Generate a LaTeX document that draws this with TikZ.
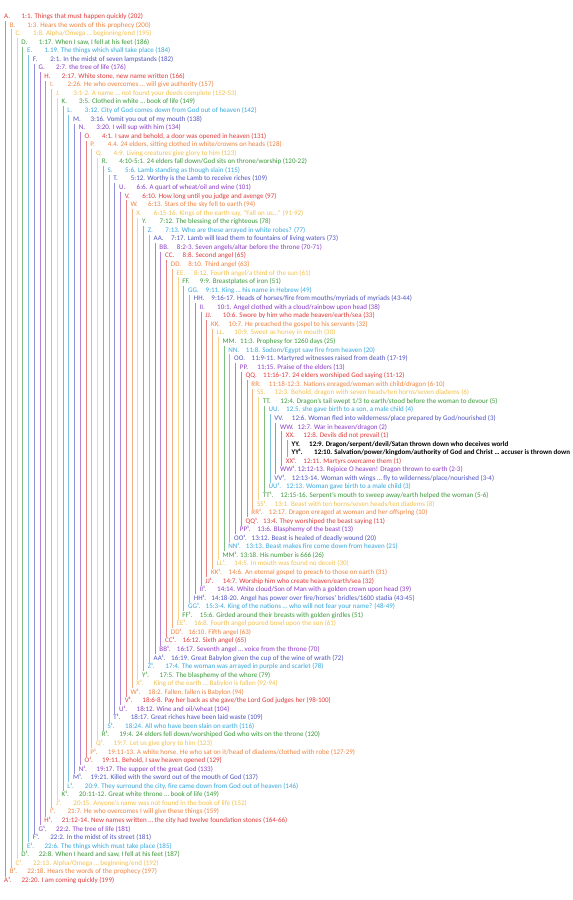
\documentclass[tikz,border=0pt]{standalone}
\usepackage{fontspec}
\setmainfont{Carlito}
\begin{document}
% colour cycle of the bracket levels
\definecolor{c0}{HTML}{E03C3C}
\definecolor{c1}{HTML}{EF8440}
\definecolor{c2}{HTML}{F3C04E}
\definecolor{c3}{HTML}{3C9A3C}
\definecolor{c4}{HTML}{38A8DC}
\definecolor{c5}{HTML}{5054C0}
\definecolor{c6}{HTML}{8C3CC6}
\newcommand\rowy[1]{16.7+8.554*#1}
\newcommand\chrow[3]{% row, level, label and text
  \pgfmathtruncatemacro\ci{mod(#2,7)}%
  \node[lab,text=c\ci] (lab#1) at ({4+5.75*#2},{\rowy{#1}}) {#3.};%
}
\newcommand\chtxt[3]{% row, level, text
  \pgfmathtruncatemacro\ci{mod(#2,7)}%
  \node[txt,text=c\ci] (txt#1) at ({21.5+5.75*#2},{\rowy{#1}}) {#3};%
}
\begin{tikzpicture}[x=1pt,y=-1pt,
  lab/.style={anchor=west,inner sep=0pt,text height=4.9pt,text depth=1.4pt,
    font=\fontsize{7}{8}\selectfont},
  txt/.style={anchor=west,inner sep=0pt,text height=4.9pt,text depth=1.4pt,
    font=\fontsize{7}{8}\selectfont},
  bar/.style={line width=0.8pt}]
\fill[white] (0,0) rectangle (573,900);
\useasboundingbox (0,0) rectangle (573,900);
% opening half
\chrow{0}{0}{A}\chtxt{0}{0}{1:1. Things that must happen quickly (202)}
\chrow{1}{1}{B}\chtxt{1}{1}{1:3. Hears the words of this prophecy (200)}
\chrow{2}{2}{C}\chtxt{2}{2}{1:8. Alpha/Omega … beginning/end (195)}
\chrow{3}{3}{D}\chtxt{3}{3}{1:17. When I saw, I fell at his feet (186)}
\chrow{4}{4}{E}\chtxt{4}{4}{1.19. The things which shall take place (184)}
\chrow{5}{5}{F}\chtxt{5}{5}{2:1. In the midst of seven lampstands (182)}
\chrow{6}{6}{G}\chtxt{6}{6}{2:7. the tree of life (176)}
\chrow{7}{7}{H}\chtxt{7}{7}{2:17. White stone, new name written (166)}
\chrow{8}{8}{I}\chtxt{8}{8}{2:26. He who overcomes … will give authority (157)}
\chrow{9}{9}{J}\chtxt{9}{9}{3:1-2. A name … not found your deeds complete (152-53)}
\chrow{10}{10}{K}\chtxt{10}{10}{3:5. Clothed in white … book of life (149)}
\chrow{11}{11}{L}\chtxt{11}{11}{3:12. City of God comes down from God out of heaven (142)}
\chrow{12}{12}{M}\chtxt{12}{12}{3:16. Vomit you out of my mouth (138)}
\chrow{13}{13}{N}\chtxt{13}{13}{3:20. I will sup with him (134)}
\chrow{14}{14}{O}\chtxt{14}{14}{4:1. I saw and behold, a door was opened in heaven (131)}
\chrow{15}{15}{P}\chtxt{15}{15}{4.4. 24 elders, sitting clothed in white/crowns on heads (128)}
\chrow{16}{16}{Q}\chtxt{16}{16}{4:9. Living creatures give glory to him (123)}
\chrow{17}{17}{R}\chtxt{17}{17}{4:10-5:1. 24 elders fall down/God sits on throne/worship (120-22)}
\chrow{18}{18}{S}\chtxt{18}{18}{5:6. Lamb standing as though slain (115)}
\chrow{19}{19}{T}\chtxt{19}{19}{5:12. Worthy is the Lamb to receive riches (109)}
\chrow{20}{20}{U}\chtxt{20}{20}{6:6. A quart of wheat/oil and wine (101)}
\chrow{21}{21}{V}\chtxt{21}{21}{6:10. How long until you judge and avenge (97)}
\chrow{22}{22}{W}\chtxt{22}{22}{6:13. Stars of the sky fell to earth (94)}
\chrow{23}{23}{X}\chtxt{23}{23}{6:15-16. Kings of the earth say, “Fall on us...” (91-92)}
\chrow{24}{24}{Y}\chtxt{24}{24}{7:12. The blessing of the righteous (78)}
\chrow{25}{25}{Z}\chtxt{25}{25}{7:13. Who are these arrayed in white robes? (77)}
\chrow{26}{26}{AA}\chtxt{26}{26}{7:17. Lamb will lead them to fountains of living waters (73)}
\chrow{27}{27}{BB}\chtxt{27}{27}{8:2-3. Seven angels/altar before the throne (70-71)}
\chrow{28}{28}{CC}\chtxt{28}{28}{8:8. Second angel (65)}
\chrow{29}{29}{DD}\chtxt{29}{29}{8:10. Third angel (63)}
\chrow{30}{30}{EE}\chtxt{30}{30}{8:12. Fourth angel/a third of the sun (61)}
\chrow{31}{31}{FF}\chtxt{31}{31}{9:9. Breastplates of iron (51)}
\chrow{32}{32}{GG}\chtxt{32}{32}{9:11. King … his name in Hebrew (49)}
\chrow{33}{33}{HH}\chtxt{33}{33}{9:16-17. Heads of horses/fire from mouths/myriads of myriads (43-44)}
\chrow{34}{34}{II}\chtxt{34}{34}{10:1. Angel clothed with a cloud/rainbow upon head (38)}
\chrow{35}{35}{JJ}\chtxt{35}{35}{10:6. Swore by him who made heaven/earth/sea (33)}
\chrow{36}{36}{KK}\chtxt{36}{36}{10:7. He preached the gospel to his servants (32)}
\chrow{37}{37}{LL}\chtxt{37}{37}{10:9. Sweet as honey in mouth (30)}
\chrow{38}{38}{MM}\chtxt{38}{38}{11:3. Prophesy for 1260 days (25)}
\chrow{39}{39}{NN}\chtxt{39}{39}{11:8. Sodom/Egypt saw fire from heaven (20)}
\chrow{40}{40}{OO}\chtxt{40}{40}{11:9-11. Martyred witnesses raised from death (17-19)}
\chrow{41}{41}{PP}\chtxt{41}{41}{11:15. Praise of the elders (13)}
\chrow{42}{42}{QQ}\chtxt{42}{42}{11:16-17. 24 elders worshiped God saying (11-12)}
\chrow{43}{43}{RR}\chtxt{43}{43}{11:18-12:3. Nations enraged/woman with child/dragon (6-10)}
\chrow{44}{44}{SS}\chtxt{44}{44}{12:3. Behold, dragon with seven heads/ten horns/seven diadems (6)}
\chrow{45}{45}{TT}\chtxt{45}{45}{12:4. Dragon’s tail swept 1/3 to earth/stood before the woman to devour (5)}
\chrow{46}{46}{UU}\chtxt{46}{46}{12.5. she gave birth to a son, a male child (4)}
\chrow{47}{47}{VV}\chtxt{47}{47}{12:6. Woman fled into wilderness/place prepared by God/nourished (3)}
\chrow{48}{48}{WW}\chtxt{48}{48}{12:7. War in heaven/dragon (2)}
\chrow{49}{49}{XX}\chtxt{49}{49}{12:8. Devils did not prevail (1)}
% centre pair
\node[lab,font=\fontsize{7}{8}\selectfont\bfseries] (lab50) at ({4+5.75*50},{\rowy{50}}) {YY.};
\node[txt,font=\fontsize{7}{8}\selectfont\bfseries] (txt50) at ({21.5+5.75*50},{\rowy{50}}) {12:9. Dragon/serpent/devil/Satan thrown down who deceives world};
\node[lab,font=\fontsize{7}{8}\selectfont\bfseries] (lab51) at ({4+5.75*50},{\rowy{51}}) {YY¹.};
\node[txt,font=\fontsize{7}{8}\selectfont\bfseries] (txt51) at (314,{\rowy{51}}) {12:10. Salvation/power/kingdom/authority of God and Christ … accuser is thrown down};
% closing half
\chrow{52}{49}{XX¹}\chtxt{52}{49}{12:11. Martyrs overcame them (1)}
\chrow{53}{48}{WW¹}\chtxt{53}{48}{12:12-13. Rejoice O heaven! Dragon thrown to earth (2-3)}
\chrow{54}{47}{VV¹}\chtxt{54}{47}{12:13-14. Woman with wings … fly to wilderness/place/nourished (3-4)}
\chrow{55}{46}{UU¹}\chtxt{55}{46}{12:13. Woman gave birth to a male child (3)}
\chrow{56}{45}{TT¹}\chtxt{56}{45}{12:15-16. Serpent’s mouth to sweep away/earth helped the woman (5-6)}
\chrow{57}{44}{SS¹}\chtxt{57}{44}{13:1. Beast with ten horns/seven heads/ten diadems (8)}
\chrow{58}{43}{RR¹}\chtxt{58}{43}{12:17. Dragon enraged at woman and her offspring (10)}
\chrow{59}{42}{QQ¹}\chtxt{59}{42}{13:4. They worshiped the beast saying (11)}
\chrow{60}{41}{PP¹}\chtxt{60}{41}{13:6. Blasphemy of the beast (13)}
\chrow{61}{40}{OO¹}\chtxt{61}{40}{13:12. Beast is healed of deadly wound (20)}
\chrow{62}{39}{NN¹}\chtxt{62}{39}{13:13. Beast makes fire come down from heaven (21)}
\chrow{63}{38}{MM¹}\chtxt{63}{38}{13:18. His number is 666 (26)}
\chrow{64}{37}{LL¹}\chtxt{64}{37}{14:5. In mouth was found no deceit (30)}
\chrow{65}{36}{KK¹}\chtxt{65}{36}{14:6. An eternal gospel to preach to those on earth (31)}
\chrow{66}{35}{JJ¹}\chtxt{66}{35}{14:7. Worship him who create heaven/earth/sea (32)}
\chrow{67}{34}{II¹}\chtxt{67}{34}{14:14. White cloud/Son of Man with a golden crown upon head (39)}
\chrow{68}{33}{HH¹}\chtxt{68}{33}{14:18-20. Angel has power over fire/horses’ bridles/1600 stadia (43-45)}
\chrow{69}{32}{GG¹}\chtxt{69}{32}{15:3-4. King of the nations … who will not fear your name? (48-49)}
\chrow{70}{31}{FF¹}\chtxt{70}{31}{15:6. Girded around their breasts with golden girdles (51)}
\chrow{71}{30}{EE¹}\chtxt{71}{30}{16:8. Fourth angel poured bowl upon the sun (61)}
\chrow{72}{29}{DD¹}\chtxt{72}{29}{16:10. Fifth angel (63)}
\chrow{73}{28}{CC¹}\chtxt{73}{28}{16:12. Sixth angel (65)}
\chrow{74}{27}{BB¹}\chtxt{74}{27}{16:17. Seventh angel … voice from the throne (70)}
\chrow{75}{26}{AA¹}\chtxt{75}{26}{16:19. Great Babylon given the cup of the wine of wrath (72)}
\chrow{76}{25}{Z¹}\chtxt{76}{25}{17:4. The woman was arrayed in purple and scarlet (78)}
\chrow{77}{24}{Y¹}\chtxt{77}{24}{17:5. The blasphemy of the whore (79)}
\chrow{78}{23}{X¹}\chtxt{78}{23}{King of the earth … Babylon is fallen (92-94)}
\chrow{79}{22}{W¹}\chtxt{79}{22}{18:2. Fallen, fallen is Babylon (94)}
\chrow{80}{21}{V¹}\chtxt{80}{21}{18:6-8. Pay her back as she gave/the Lord God judges her (98-100)}
\chrow{81}{20}{U¹}\chtxt{81}{20}{18:12. Wine and oil/wheat (104)}
\chrow{82}{19}{T¹}\chtxt{82}{19}{18:17. Great riches have been laid waste (109)}
\chrow{83}{18}{S¹}\chtxt{83}{18}{18:24. All who have been slain on earth (116)}
\chrow{84}{17}{R¹}\chtxt{84}{17}{19:4. 24 elders fell down/worshiped God who wits on the throne (120)}
\chrow{85}{16}{Q¹}\chtxt{85}{16}{19:7. Let us give glory to him (123)}
\chrow{86}{15}{P¹}\chtxt{86}{15}{19:11-13. A white horse. He who sat on it/head of diadems/clothed with robe (127-29)}
\chrow{87}{14}{O¹}\chtxt{87}{14}{19:11. Behold, I saw heaven opened (129)}
\chrow{88}{13}{N¹}\chtxt{88}{13}{19:17. The supper of the great God (133)}
\chrow{89}{12}{M¹}\chtxt{89}{12}{19:21. Killed with the sword out of the mouth of God (137)}
\chrow{90}{11}{L¹}\chtxt{90}{11}{20:9. They surround the city, fire came down from God out of heaven (146)}
\chrow{91}{10}{K¹}\chtxt{91}{10}{20:11-12. Great white throne … book of life (149)}
\chrow{92}{9}{J¹}\chtxt{92}{9}{20:15. Anyone’s name was not found in the book of life (152)}
\chrow{93}{8}{I¹}\chtxt{93}{8}{21:7. He who overcomes I will give these things (159)}
\chrow{94}{7}{H¹}\chtxt{94}{7}{21:12-14. New names written … the city had twelve foundation stones (164-66)}
\chrow{95}{6}{G¹}\chtxt{95}{6}{22:2. The tree of life (181)}
\chrow{96}{5}{F¹}\chtxt{96}{5}{22:2. In the midst of its street (181)}
\chrow{97}{4}{E¹}\chtxt{97}{4}{22:6. The things which must take place (185)}
\chrow{98}{3}{D¹}\chtxt{98}{3}{22:8. When I heard and saw, I fell at his feet (187)}
\chrow{99}{2}{C¹}\chtxt{99}{2}{22:13. Alpha/Omega … beginning/end (192)}
\chrow{100}{1}{B¹}\chtxt{100}{1}{22:18. Hears the words of the prophecy (197)}
\chrow{101}{0}{A¹}\chtxt{101}{0}{22:20. I am coming quickly (199)}
% brackets joining each pair
\foreach \i in {0,...,49}{
  \pgfmathtruncatemacro\j{101-\i}
  \pgfmathtruncatemacro\ci{mod(\i,7)}
  \draw[bar,draw=c\ci!65] ([xshift=1.5pt,yshift=-0.8pt]lab\i.south west) -- ([xshift=1.5pt,yshift=0.8pt]lab\j.north west);
}
\end{tikzpicture}
\end{document}
